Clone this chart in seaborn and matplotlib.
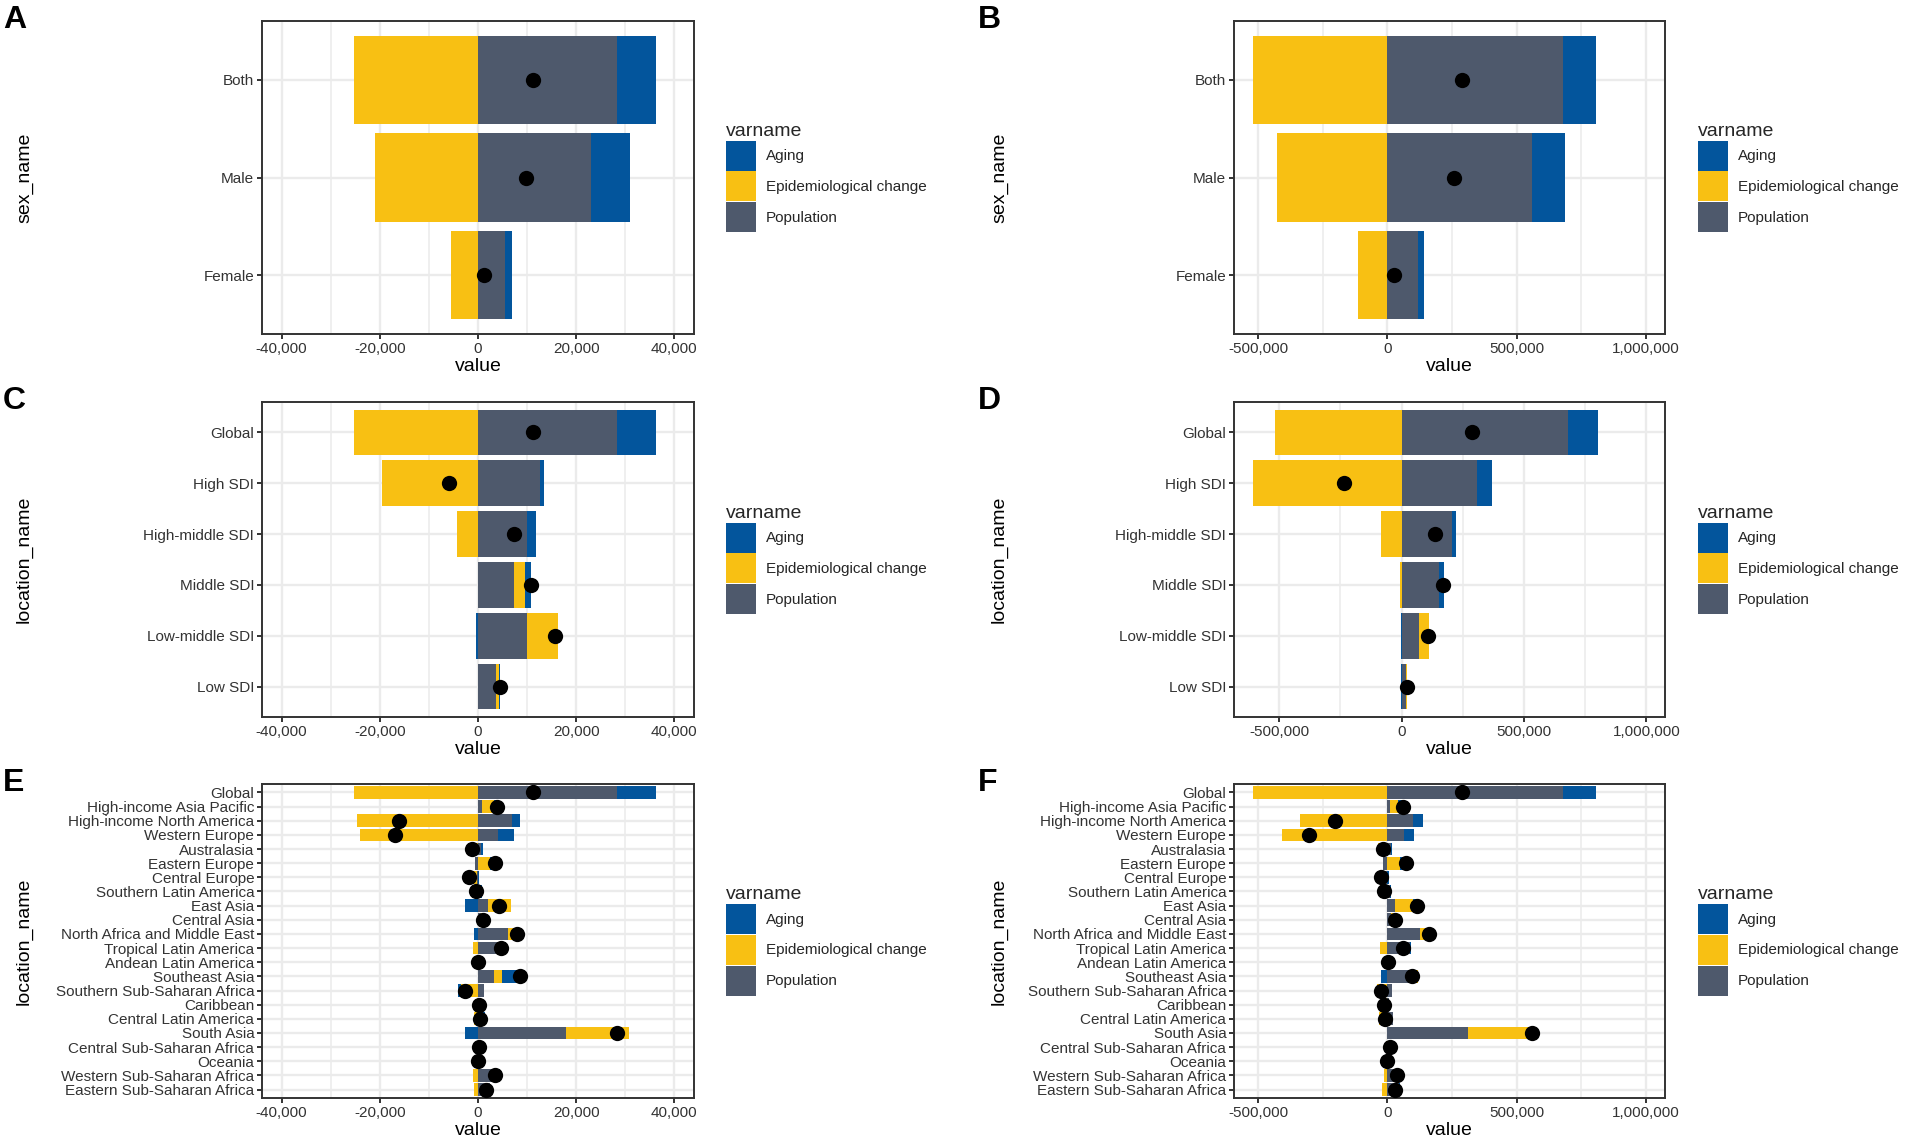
import numpy as np
import seaborn as sns
import matplotlib.pyplot as plt
from matplotlib.patches import Patch
from matplotlib.ticker import FuncFormatter

sns.set_theme(style='white')
plt.rcParams['font.family'] = ['Liberation Sans', 'DejaVu Sans']

# ---- data ----
varnames = ['Aging', 'Epidemiological change', 'Population']

sex_names = ['Both', 'Male', 'Female']
sdi_names = ['Global', 'High SDI', 'High-middle SDI', 'Middle SDI', 'Low-middle SDI', 'Low SDI']
region_names = ['Global', 'High-income Asia Pacific', 'High-income North America', 'Western Europe',
                'Australasia', 'Eastern Europe', 'Central Europe', 'Southern Latin America',
                'East Asia', 'Central Asia', 'North Africa and Middle East', 'Tropical Latin America',
                'Andean Latin America', 'Southeast Asia', 'Southern Sub-Saharan Africa', 'Caribbean',
                'Central Latin America', 'South Asia', 'Central Sub-Saharan Africa', 'Oceania',
                'Western Sub-Saharan Africa', 'Eastern Sub-Saharan Africa']

# A: sex, deaths
a_aging = [8000, 7900, 1470]
a_epi = [-25200, -21000, -5550]
a_pop = [28300, 23000, 5500]
a_total = [11200, 9800, 1300]

# B: sex, DALYs
b_aging = [127600, 129000, 20600]
b_epi = [-518000, -428000, -112000]
b_pop = [677000, 558000, 120000]
b_total = [289000, 259000, 26000]

# C: SDI, deaths
c_aging = [8000, 900, 1730, 1280, -450, 340]
c_epi = [-25200, -19500, -4200, 2250, 6230, 470]
c_pop = [28300, 12530, 10050, 7280, 10050, 3720]
c_total = [11200, -6000, 7430, 10800, 15750, 4400]

# D: SDI, DALYs
d_aging = [125000, 61000, 16000, 23000, -3000, -2000]
d_epi = [-516000, -606000, -84500, -7000, 38000, 6000]
d_pop = [678000, 309000, 206000, 151000, 72000, 17000]
d_total = [287000, -234000, 136000, 168000, 108000, 20000]

# E: regions, deaths
e_aging = [8000, 500, 1550, 3310, 400, 1600, 300, 400, -2640, 200, -830, 1200,
           100, 3800, -600, 100, 400, -2700, 0, 0, 1500, 0]
e_epi = [-25200, 2500, -24660, -24120, -2100, 2500, -1900, -1270, 4730, 200, 2560, -1000,
         -400, 1500, -3400, -200, -900, 12800, -300, -300, -1000, -800]
e_pop = [28300, 800, 6960, 3990, 540, -700, -300, 400, 2030, 600, 6150, 4500,
         400, 3300, 1300, 300, 1000, 18000, 600, 200, 3000, 2500]
e_total = [11200, 3850, -16080, -16890, -1150, 3380, -1900, -470, 4190, 1000, 7880, 4700,
           100, 8600, -2700, 200, 500, 28300, 300, -100, 3450, 1700]

# F: regions, DALYs
f_aging = [128000, 20000, 39000, 36000, 5000, 40000, 7000, 5000, 18000, -3000, -3000, 2000,
           1000, -26000, 0, 0, 0, -2000, 0, 0, 6000, 5000]
f_epi = [-518000, 32000, -338000, -406000, -37000, 49000, -26000, -29000, 68000, 20000, 38000, -28000,
         -6000, 26000, -41000, -17000, -32000, 249000, -5000, -2000, -15000, -22000]
f_pop = [677000, 10000, 97000, 66000, 14000, -18000, -5000, 10000, 30000, 12000, 126000, 88000,
         8000, 94000, 17000, 5000, 23000, 312000, 15000, 2000, 45000, 45000]
f_total = [289000, 62000, -202000, -303000, -18000, 71000, -24000, -14000, 116000, 29000, 161000, 62000,
           3000, 94000, -24000, -12000, -9000, 559000, 10000, 0, 36000, 28000]

colors = ['#03559C', '#F8C013', '#4E596C']

W, H = 1906, 1145
fig = plt.figure(figsize=(W / 100, H / 100), dpi=100)


def comma(v, pos):
    return f'{v:,.0f}'


def panel(box, cats, aging, epi, pop, total, xlim, major, minor, ylab, tag, tag_x, leg_x):
    l, t, r, b = box
    ax = fig.add_axes([l / W, 1 - b / H, (r - l) / W, (b - t) / H])
    aging, epi, pop = np.array(aging, float), np.array(epi, float), np.array(pop, float)
    # ggplot-like stacking: Population next to zero, then Epi change, then Aging outside
    for side in (np.maximum, np.minimum):
        p, e, a = side(pop, 0), side(epi, 0), side(aging, 0)
        for vals, c in [(p + e + a, colors[0]), (p + e, colors[1]), (p, colors[2])]:
            sns.barplot(x=vals, y=cats, order=cats, color=c, saturation=1, width=0.9,
                        errorbar=None, orient='h', linewidth=0, ax=ax)
    sns.stripplot(x=total, y=cats, order=cats, jitter=False, color='black', size=11,
                  linewidth=0, orient='h', ax=ax, zorder=4)

    ax.set_xlim(xlim)
    ax.set_ylim(len(cats) - 0.4, -0.6)
    ax.set_xticks(major)
    ax.set_xticks(minor, minor=True)
    ax.xaxis.set_major_formatter(FuncFormatter(comma))
    ax.set_axisbelow(True)
    ax.grid(True, which='major', color='#EBEBEB', lw=1.7)
    ax.grid(True, which='minor', axis='x', color='#EBEBEB', lw=1.1)
    ax.tick_params(axis='both', which='major', length=3.5, width=1.4, color='#333333',
                   labelsize=11, labelcolor='#333333', pad=2, left=True, bottom=True)
    ax.tick_params(which='minor', length=0)
    for s in ax.spines.values():
        s.set_visible(True)
        s.set_color('#333333')
        s.set_linewidth(1.4)
    ax.set_xlabel('value', fontsize=14, color='black', labelpad=2)
    ax.set_ylabel(ylab, fontsize=14, color='black')
    ax.yaxis.set_label_coords((tag_x + 30 - l) / (r - l), 0.5)

    fig.text(tag_x / W, 1 - (t - 16) / H, tag, fontsize=23, fontweight='bold',
             va='top', ha='left', color='black')

    handles = [Patch(facecolor=c, edgecolor='none') for c in colors]
    fig.legend(handles, varnames, loc='center left', bbox_to_anchor=(leg_x / W, 1 - (t + b) / 2 / H),
               frameon=False, title='varname', title_fontsize=14, fontsize=11,
               handlelength=1.95, handleheight=2.64, labelspacing=0.05, handletextpad=0.65,
               borderpad=0, borderaxespad=0, alignment='left')
    return ax


small_major = [-40000, -20000, 0, 20000, 40000]
small_minor = [-30000, -10000, 10000, 30000]
big_major = [-500000, 0, 500000, 1000000]
big_minor = [-250000, 250000, 750000]

left_col = (262, 694)
right_col = (1234, 1665)
rows = [(21, 334), (402, 717), (784, 1098)]

panel((left_col[0], rows[0][0], left_col[1], rows[0][1]), sex_names, a_aging, a_epi, a_pop, a_total,
      (-44000, 44000), small_major, small_minor, 'sex_name', 'A', 3, 726)
panel((right_col[0], rows[0][0], right_col[1], rows[0][1]), sex_names, b_aging, b_epi, b_pop, b_total,
      (-593000, 1073000), big_major, big_minor, 'sex_name', 'B', 978, 1698)
panel((left_col[0], rows[1][0], left_col[1], rows[1][1]), sdi_names, c_aging, c_epi, c_pop, c_total,
      (-44000, 44000), small_major, small_minor, 'location_name', 'C', 3, 726)
panel((right_col[0], rows[1][0], right_col[1], rows[1][1]), sdi_names, d_aging, d_epi, d_pop, d_total,
      (-685000, 1076000), big_major, big_minor, 'location_name', 'D', 978, 1698)
panel((left_col[0], rows[2][0], left_col[1], rows[2][1]), region_names, e_aging, e_epi, e_pop, e_total,
      (-44000, 44000), small_major, small_minor, 'location_name', 'E', 3, 726)
panel((right_col[0], rows[2][0], right_col[1], rows[2][1]), region_names, f_aging, f_epi, f_pop, f_total,
      (-593000, 1073000), big_major, big_minor, 'location_name', 'F', 978, 1698)

fig.savefig('out.png', dpi=100)
